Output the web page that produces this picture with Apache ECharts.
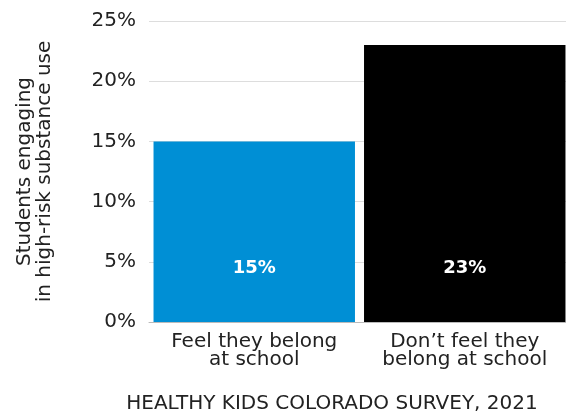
<!DOCTYPE html>
<html>
<head>
<meta charset="utf-8">
<script src="https://cdn.jsdelivr.net/npm/echarts@6/dist/echarts.min.js"></script>
<style>
html, body { margin:0; padding:0; background:#fff; }
#chartContainer { width:566px; height:412px; }
</style>
</head>
<body>
<div id="chartContainer"></div>
<script>
var categories = ['Feel they belong\nat school', 'Don\u2019t feel they\nbelong at school'];
var values = [15, 23];
var barColors = ['#008fd5', '#000000'];
var yTicks = [0, 5, 10, 15, 20, 25];

var FONT = 'DejaVu Sans';
var myChart = echarts.init(document.getElementById('chartContainer'));
var option = {
	animation : false,
	title : {
		text : 'HEALTHY KIDS COLORADO SURVEY, 2021',
		left : 327,
		textAlign : 'center',
		top : 389,
		textStyle : { color : '#222', fontSize : 20, fontWeight : 'normal', fontFamily : FONT }
	},
	grid : { left : 149, right : -4, top : 21, bottom : 90, outerBoundsMode : 'none', containLabel : false },
	xAxis : {
		type : 'category',
		data : categories,
		axisTick : { show : false },
		axisLine : { lineStyle : { color : '#bbb', width : 1 } },
		axisLabel : { color : '#222', fontSize : 20, fontFamily : FONT, lineHeight : 18, margin : 11, interval : 0 }
	},
	yAxis : {
		type : 'value',
		min : 0,
		max : yTicks[yTicks.length - 1],
		interval : 5,
		name : 'Students engaging\nin high-risk substance use',
		nameLocation : 'middle',
		nameRotate : 90,
		nameGap : 94,
		nameTextStyle : { color : '#222', fontSize : 20, fontFamily : FONT, lineHeight : 20 },
		axisLine : { show : false },
		axisTick : { show : false },
		splitLine : { lineStyle : { color : '#ddd', width : 1 } },
		axisLabel : {
			color : '#222', fontSize : 20, fontFamily : FONT, margin : 13,
			formatter : function (v) { return v + '%'; }
		}
	},
	series : [{
		type : 'bar',
		barWidth : '95.7%',
		data : values.map(function (v, i) { return { value : v, itemStyle : { color : barColors[i] } }; }),
		label : {
			show : true,
			position : 'insideBottom',
			distance : 45,
			color : '#fff',
			fontWeight : 'bold',
			fontSize : 18,
			fontFamily : FONT,
			formatter : function (p) { return p.value + '%'; }
		}
	}]
};
myChart.setOption(option);
</script>
</body>
</html>
